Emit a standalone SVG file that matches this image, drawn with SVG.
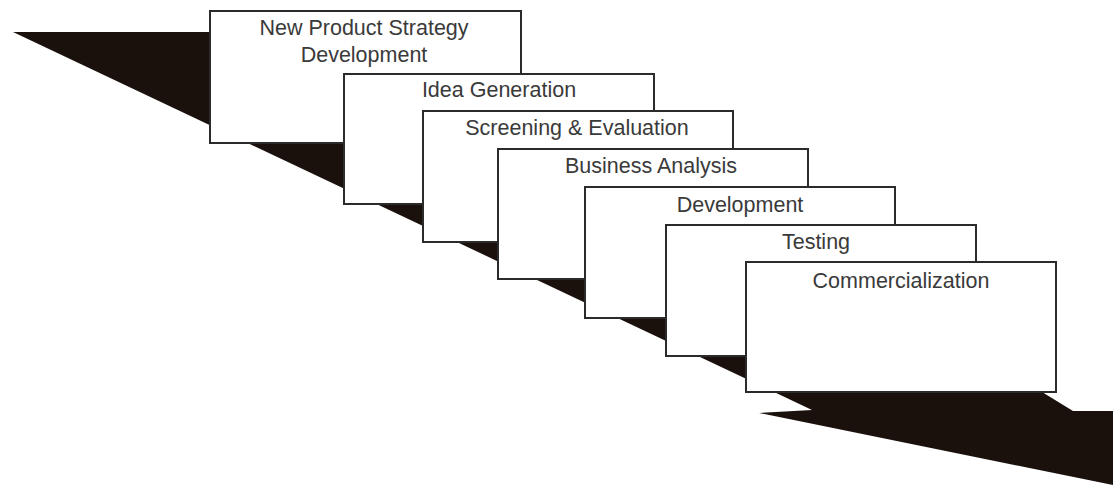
<svg xmlns="http://www.w3.org/2000/svg" width="1113" height="486" viewBox="0 0 1113 486">
<style>
.box{fill:#fff;stroke:#2b2b2b;stroke-width:2}
.lbl{font-family:"Liberation Sans",Arial,sans-serif;font-size:21.5px;fill:#3a3a3a;text-anchor:middle}
</style>
<rect width="1113" height="486" fill="#fff"/>
<g id="connectors">
<polygon id="flow-arrow" fill="#1b110c" points="13,32 210,32 1042,392 1073,411 1113,411 1113,485 759,413 812,410"/>
</g>
<g id="n1"><rect class="box" x="210" y="11" width="311" height="132"/><text class="lbl" x="364" y="35">New Product Strategy</text><text class="lbl" x="364" y="62">Development</text></g>
<g id="n2"><rect class="box" x="344" y="74" width="310" height="130"/><text class="lbl" x="499" y="97">Idea Generation</text></g>
<g id="n3"><rect class="box" x="423" y="111" width="310" height="131"/><text class="lbl" x="577" y="135">Screening &amp; Evaluation</text></g>
<g id="n4"><rect class="box" x="498" y="149" width="310" height="130"/><text class="lbl" x="651" y="173">Business Analysis</text></g>
<g id="n5"><rect class="box" x="585" y="187" width="310" height="131"/><text class="lbl" x="740" y="212">Development</text></g>
<g id="n6"><rect class="box" x="666" y="225" width="310" height="131"/><text class="lbl" x="816" y="249">Testing</text></g>
<g id="n7"><rect class="box" x="746" y="262" width="310" height="130"/><text class="lbl" x="901" y="288">Commercialization</text></g>
</svg>
